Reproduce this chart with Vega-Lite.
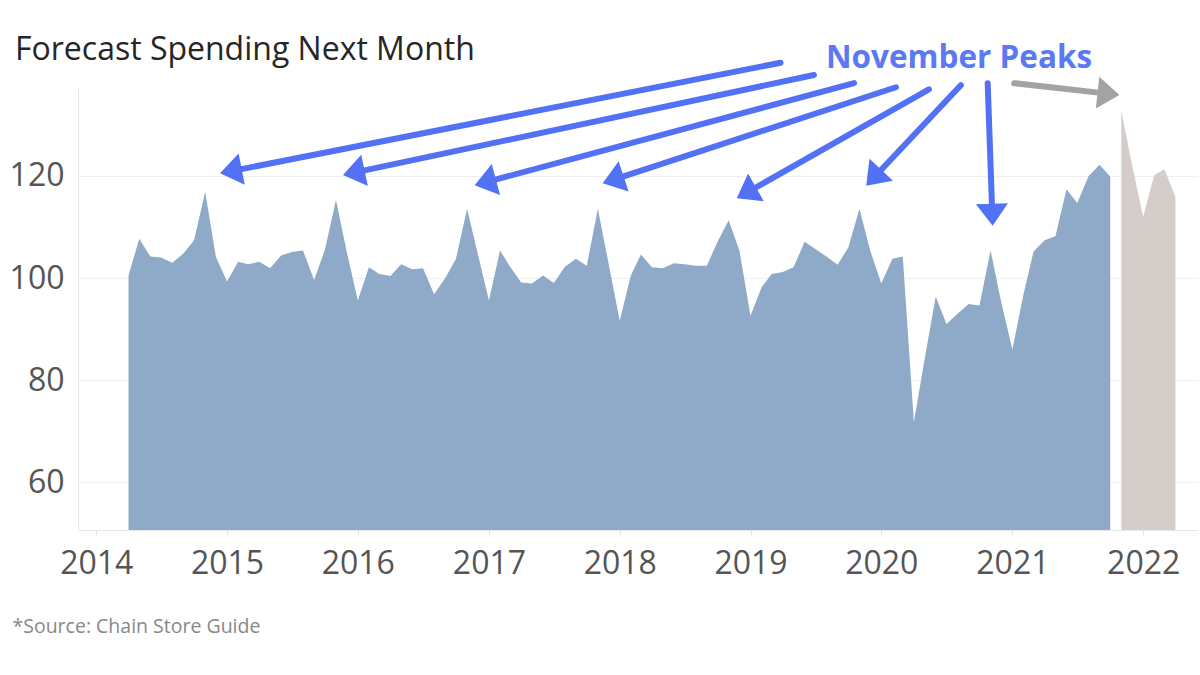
{
  "$schema": "https://vega.github.io/schema/vega-lite/v6.json",
  "width": 1120,
  "height": 442,
  "autosize": {"type": "none"},
  "padding": {"left": 78, "top": 88, "right": 2, "bottom": 145},
  "background": "white",
  "config": {"view": {"stroke": null}, "font": "Open Sans"},
  "title": {
    "text": "Forecast Spending Next Month",
    "anchor": "start",
    "frame": "group",
    "dx": -63,
    "offset": -49,
    "baseline": "alphabetic",
    "font": "Open Sans",
    "fontSize": 32,
    "fontWeight": "normal",
    "color": "#262626"
  },
  "datasets": {
    "spending": [
      {"month": "2014-04-01", "value": 100.5, "series": "Actual"},
      {"month": "2014-05-01", "value": 107.7, "series": "Actual"},
      {"month": "2014-06-01", "value": 104.2, "series": "Actual"},
      {"month": "2014-07-01", "value": 104.0, "series": "Actual"},
      {"month": "2014-08-01", "value": 103.0, "series": "Actual"},
      {"month": "2014-09-01", "value": 104.8, "series": "Actual"},
      {"month": "2014-10-01", "value": 107.4, "series": "Actual"},
      {"month": "2014-11-01", "value": 116.9, "series": "Actual"},
      {"month": "2014-12-01", "value": 104.1, "series": "Actual"},
      {"month": "2015-01-01", "value": 99.3, "series": "Actual"},
      {"month": "2015-02-01", "value": 103.2, "series": "Actual"},
      {"month": "2015-03-01", "value": 102.7, "series": "Actual"},
      {"month": "2015-04-01", "value": 103.2, "series": "Actual"},
      {"month": "2015-05-01", "value": 101.9, "series": "Actual"},
      {"month": "2015-06-01", "value": 104.4, "series": "Actual"},
      {"month": "2015-07-01", "value": 105.1, "series": "Actual"},
      {"month": "2015-08-01", "value": 105.4, "series": "Actual"},
      {"month": "2015-09-01", "value": 99.6, "series": "Actual"},
      {"month": "2015-10-01", "value": 105.5, "series": "Actual"},
      {"month": "2015-11-01", "value": 115.3, "series": "Actual"},
      {"month": "2015-12-01", "value": 105.2, "series": "Actual"},
      {"month": "2016-01-01", "value": 95.6, "series": "Actual"},
      {"month": "2016-02-01", "value": 102.1, "series": "Actual"},
      {"month": "2016-03-01", "value": 100.8, "series": "Actual"},
      {"month": "2016-04-01", "value": 100.4, "series": "Actual"},
      {"month": "2016-05-01", "value": 102.7, "series": "Actual"},
      {"month": "2016-06-01", "value": 101.7, "series": "Actual"},
      {"month": "2016-07-01", "value": 101.9, "series": "Actual"},
      {"month": "2016-08-01", "value": 96.8, "series": "Actual"},
      {"month": "2016-09-01", "value": 100.0, "series": "Actual"},
      {"month": "2016-10-01", "value": 103.8, "series": "Actual"},
      {"month": "2016-11-01", "value": 113.6, "series": "Actual"},
      {"month": "2016-12-01", "value": 104.7, "series": "Actual"},
      {"month": "2017-01-01", "value": 95.6, "series": "Actual"},
      {"month": "2017-02-01", "value": 105.4, "series": "Actual"},
      {"month": "2017-03-01", "value": 102.2, "series": "Actual"},
      {"month": "2017-04-01", "value": 99.1, "series": "Actual"},
      {"month": "2017-05-01", "value": 98.9, "series": "Actual"},
      {"month": "2017-06-01", "value": 100.5, "series": "Actual"},
      {"month": "2017-07-01", "value": 99.0, "series": "Actual"},
      {"month": "2017-08-01", "value": 102.2, "series": "Actual"},
      {"month": "2017-09-01", "value": 103.8, "series": "Actual"},
      {"month": "2017-10-01", "value": 102.4, "series": "Actual"},
      {"month": "2017-11-01", "value": 113.6, "series": "Actual"},
      {"month": "2017-12-01", "value": 102.8, "series": "Actual"},
      {"month": "2018-01-01", "value": 91.6, "series": "Actual"},
      {"month": "2018-02-01", "value": 100.5, "series": "Actual"},
      {"month": "2018-03-01", "value": 104.6, "series": "Actual"},
      {"month": "2018-04-01", "value": 102.1, "series": "Actual"},
      {"month": "2018-05-01", "value": 101.9, "series": "Actual"},
      {"month": "2018-06-01", "value": 102.9, "series": "Actual"},
      {"month": "2018-07-01", "value": 102.7, "series": "Actual"},
      {"month": "2018-08-01", "value": 102.4, "series": "Actual"},
      {"month": "2018-09-01", "value": 102.4, "series": "Actual"},
      {"month": "2018-10-01", "value": 107.1, "series": "Actual"},
      {"month": "2018-11-01", "value": 111.3, "series": "Actual"},
      {"month": "2018-12-01", "value": 105.4, "series": "Actual"},
      {"month": "2019-01-01", "value": 92.6, "series": "Actual"},
      {"month": "2019-02-01", "value": 98.2, "series": "Actual"},
      {"month": "2019-03-01", "value": 100.8, "series": "Actual"},
      {"month": "2019-04-01", "value": 101.2, "series": "Actual"},
      {"month": "2019-05-01", "value": 102.1, "series": "Actual"},
      {"month": "2019-06-01", "value": 107.1, "series": "Actual"},
      {"month": "2019-07-01", "value": 105.7, "series": "Actual"},
      {"month": "2019-08-01", "value": 104.2, "series": "Actual"},
      {"month": "2019-09-01", "value": 102.6, "series": "Actual"},
      {"month": "2019-10-01", "value": 106.0, "series": "Actual"},
      {"month": "2019-11-01", "value": 113.6, "series": "Actual"},
      {"month": "2019-12-01", "value": 105.4, "series": "Actual"},
      {"month": "2020-01-01", "value": 98.9, "series": "Actual"},
      {"month": "2020-02-01", "value": 103.8, "series": "Actual"},
      {"month": "2020-03-01", "value": 104.2, "series": "Actual"},
      {"month": "2020-04-01", "value": 71.7, "series": "Actual"},
      {"month": "2020-05-01", "value": 84.1, "series": "Actual"},
      {"month": "2020-06-01", "value": 96.4, "series": "Actual"},
      {"month": "2020-07-01", "value": 91.0, "series": "Actual"},
      {"month": "2020-08-01", "value": 93.0, "series": "Actual"},
      {"month": "2020-09-01", "value": 94.9, "series": "Actual"},
      {"month": "2020-10-01", "value": 94.6, "series": "Actual"},
      {"month": "2020-11-01", "value": 105.4, "series": "Actual"},
      {"month": "2020-12-01", "value": 95.2, "series": "Actual"},
      {"month": "2021-01-01", "value": 86.0, "series": "Actual"},
      {"month": "2021-02-01", "value": 96.8, "series": "Actual"},
      {"month": "2021-03-01", "value": 105.2, "series": "Actual"},
      {"month": "2021-04-01", "value": 107.4, "series": "Actual"},
      {"month": "2021-05-01", "value": 108.2, "series": "Actual"},
      {"month": "2021-06-01", "value": 117.4, "series": "Actual"},
      {"month": "2021-07-01", "value": 114.7, "series": "Actual"},
      {"month": "2021-08-01", "value": 119.9, "series": "Actual"},
      {"month": "2021-09-01", "value": 122.2, "series": "Actual"},
      {"month": "2021-10-01", "value": 119.9, "series": "Actual"},
      {"month": "2021-11-01", "value": 132.8, "series": "Forecast"},
      {"month": "2021-12-01", "value": 122.1, "series": "Forecast"},
      {"month": "2022-01-01", "value": 112.0, "series": "Forecast"},
      {"month": "2022-02-01", "value": 120.2, "series": "Forecast"},
      {"month": "2022-03-01", "value": 121.3, "series": "Forecast"},
      {"month": "2022-04-01", "value": 115.9, "series": "Forecast"}
    ],
    "arrows": [
      {"group": "november", "fromDate": "2019-03-26", "fromValue": 142.2, "toDate": "2015-01-09", "toValue": 120.9, "heading": 168.9},
      {"group": "november", "fromDate": "2019-06-27", "fromValue": 139.8, "toDate": "2015-12-18", "toValue": 120.6, "heading": 168.0},
      {"group": "november", "fromDate": "2019-10-17", "fromValue": 138.2, "toDate": "2016-12-19", "toValue": 118.7, "heading": 165.0},
      {"group": "november", "fromDate": "2020-02-11", "fromValue": 137.4, "toDate": "2017-12-11", "toValue": 119.2, "heading": 161.9},
      {"group": "november", "fromDate": "2020-05-13", "fromValue": 137.0, "toDate": "2018-12-18", "toValue": 116.6, "heading": 150.5},
      {"group": "november", "fromDate": "2020-08-10", "fromValue": 137.8, "toDate": "2019-12-09", "toValue": 119.5, "heading": 133.1},
      {"group": "november", "fromDate": "2020-10-24", "fromValue": 138.2, "toDate": "2020-11-06", "toValue": 112.2, "heading": 88.0},
      {"group": "forecast", "fromDate": "2021-01-06", "fromValue": 138.2, "toDate": "2021-09-29", "toValue": 136.1, "heading": 6.2}
    ],
    "labels": [
      {"text": "November Peaks", "date": "2020-08-05", "value": 142.9}
    ]
  },
  "layer": [
    {
      "data": {"name": "spending"},
      "mark": {"type": "area", "interpolate": "linear", "opacity": 1, "clip": false},
      "encoding": {
        "x": {
          "field": "month", "type": "temporal",
          "scale": {"domain": ["2013-11-11", "2022-06-03"]},
          "axis": {
            "title": "*Source: Chain Store Guide",
            "format": "%Y",
            "tickCount": {"interval": "year", "step": 1},
            "labelFont": "Open Sans",
            "labelFontSize": 32,
            "labelColor": "#555555",
            "labelPadding": 13,
            "tickSize": 5,
            "tickColor": "#e3e3e3",
            "domainColor": "#e6e6e6",
            "grid": false,
            "titleX": -66,
            "titleY": 102,
            "titleAlign": "left",
            "titleAnchor": "start",
            "titleBaseline": "alphabetic",
            "titleFont": "Open Sans",
            "titleFontSize": 19.5,
            "titleFontWeight": "normal",
            "titleColor": "#888888"
          }
        },
        "y": {
          "field": "value", "type": "quantitative",
          "scale": {"domain": [50.6, 137.25], "nice": false, "zero": false},
          "axis": {
            "title": null,
            "values": [60, 80, 100, 120],
            "labelFont": "Open Sans",
            "labelFontSize": 32,
            "labelColor": "#555555",
            "labelPadding": 14,
            "ticks": false,
            "domainColor": "#e6e6e6",
            "grid": true,
            "gridColor": "#efefef"
          }
        },
        "y2": {"datum": 50.6},
        "color": {
          "field": "series", "type": "nominal",
          "scale": {"domain": ["Actual", "Forecast"], "range": ["#8faac8", "#d4cdca"]},
          "legend": null
        }
      }
    },
    {
      "data": {"name": "arrows"},
      "mark": {"type": "rule", "strokeWidth": 6, "strokeCap": "round", "clip": false},
      "encoding": {
        "x": {"field": "fromDate", "type": "temporal", "scale": {"domain": ["2013-11-11", "2022-06-03"]}},
        "y": {"field": "fromValue", "type": "quantitative", "scale": {"domain": [50.6, 137.25], "nice": false, "zero": false}},
        "x2": {"field": "toDate"},
        "y2": {"field": "toValue"},
        "color": {
          "field": "group", "type": "nominal",
          "scale": {"domain": ["november", "forecast"], "range": ["#5271f5", "#a3a3a3"]},
          "legend": null
        }
      }
    },
    {
      "data": {"name": "arrows"},
      "mark": {"type": "point", "shape": "M1,0L-1.2,-1.6L-1.2,1.6Z", "filled": true, "size": 400, "opacity": 1, "clip": false},
      "encoding": {
        "x": {"field": "toDate", "type": "temporal", "scale": {"domain": ["2013-11-11", "2022-06-03"]}},
        "y": {"field": "toValue", "type": "quantitative", "scale": {"domain": [50.6, 137.25], "nice": false, "zero": false}},
        "angle": {"field": "heading", "type": "quantitative", "scale": null},
        "color": {
          "field": "group", "type": "nominal",
          "scale": {"domain": ["november", "forecast"], "range": ["#5271f5", "#a3a3a3"]},
          "legend": null
        }
      }
    },
    {
      "data": {"name": "labels"},
      "mark": {"type": "text", "font": "Open Sans", "fontWeight": "bold", "fontSize": 31.5, "color": "#5b79f3", "align": "center", "baseline": "middle", "clip": false},
      "encoding": {
        "x": {"field": "date", "type": "temporal", "scale": {"domain": ["2013-11-11", "2022-06-03"]}},
        "y": {"field": "value", "type": "quantitative", "scale": {"domain": [50.6, 137.25], "nice": false, "zero": false}},
        "text": {"field": "text"}
      }
    }
  ],
  "resolve": {"scale": {"color": "independent"}}
}
